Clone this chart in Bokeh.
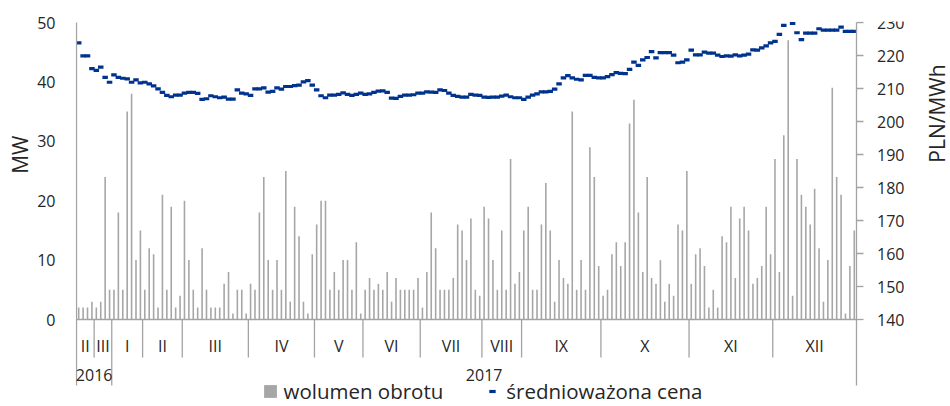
import numpy as np
from bokeh.plotting import figure
from bokeh.models import Range1d, LinearAxis, FixedTicker, Legend, LegendItem, Title
from bokeh.core.properties import value
from bokeh.embed import file_html
from bokeh.resources import INLINE

# ---------------- data ----------------
month_labels = ["II", "III", "I", "II", "III", "IV", "V", "VI", "VII", "VIII", "IX", "X", "XI", "XII"]
month_counts = [4, 4, 7, 9, 15, 15, 11, 13, 14, 9, 18, 20, 19, 19]
year_labels = ["2016", "2017"]
year_month_counts = [2, 12]

mw_ticks = [0, 10, 20, 30, 40, 50]
price_ticks = [140, 150, 160, 170, 180, 190, 200, 210, 220, 230]
price_tick_labels = ["140", "150", "160", "170", "180", "190", "200", "210", "220", "230"]

volume = [
    2, 2, 2, 3,
    2, 3, 24, 5,
    5, 18, 5, 35, 38, 10, 15,
    5, 12, 11, 2, 21, 5, 19, 2, 4,
    20, 10, 5, 2, 12, 5, 2, 2, 2, 6, 8, 1, 5, 5, 1,
    6, 5, 18, 24, 10, 5, 10, 5, 25, 3, 19, 14, 3, 1, 11,
    16, 20, 20, 5, 8, 5, 10, 10, 5, 13, 1,
    5, 7, 5, 6, 5, 8, 3, 7, 5, 5, 5, 5, 7,
    2, 8, 18, 12, 5, 5, 5, 7, 16, 15, 10, 17, 5, 4,
    19, 17, 10, 5, 15, 5, 27, 6, 8,
    15, 19, 5, 5, 16, 23, 15, 3, 10, 7, 6, 35, 5, 10, 5, 29, 24, 9,
    4, 5, 11, 13, 9, 13, 33, 37, 18, 8, 24, 7, 6, 10, 3, 6, 4, 16, 15, 25,
    6, 11, 12, 9, 2, 5, 2, 14, 13, 19, 7, 17, 19, 15, 6, 7, 9, 19, 11,
    27, 8, 31, 47, 4, 27, 21, 19, 16, 22, 12, 3, 10, 39, 24, 21, 1, 9, 15,
]

price = [
    223.8, 219.9, 219.9, 216.0,
    215.5, 216.5, 213.4, 211.9,
    214.1, 213.4, 213.1, 212.9, 211.9, 212.6, 211.7,
    211.9, 211.4, 210.8, 209.9, 208.8, 207.9, 207.5, 208.0, 208.0,
    208.6, 208.8, 208.8, 208.5, 206.7, 206.9, 207.8, 207.5, 207.2, 207.4, 206.8, 206.8, 209.6, 208.6, 208.4,
    207.9, 209.9, 209.9, 210.2, 208.9, 209.1, 210.2, 209.8, 210.6, 210.6, 210.9, 211.0, 212.0, 212.4, 211.0,
    209.6, 207.8, 207.2, 208.0, 208.0, 208.2, 208.7, 208.2, 207.9, 208.2, 208.6,
    208.2, 208.4, 208.8, 209.2, 209.3, 208.8, 207.1, 207.0, 207.6, 208.0, 208.0, 208.1, 208.6,
    208.6, 209.0, 208.9, 208.8, 209.6, 209.4, 208.6, 207.9, 207.6, 207.4, 207.4, 208.2, 208.0, 207.9,
    207.4, 207.3, 207.4, 207.4, 207.7, 208.0, 207.5, 207.2, 207.2,
    206.7, 207.4, 208.0, 208.4, 209.0, 209.0, 209.1, 209.8, 211.4, 213.2, 213.9, 213.2, 212.8, 212.6, 214.0, 214.0, 213.4, 213.2,
    213.2, 213.6, 214.2, 214.8, 214.6, 214.5, 215.8, 218.0, 217.0, 218.7, 219.4, 221.2, 219.3, 220.9, 220.9, 220.9, 220.1, 217.8, 218.0, 218.7,
    221.6, 220.2, 220.2, 221.0, 220.7, 220.7, 220.1, 219.7, 219.9, 219.8, 220.2, 219.9, 220.1, 220.4, 221.7, 221.6, 222.3, 222.9, 223.8,
    224.3, 226.4, 229.1, float("nan"), 229.7, 226.9, 224.8, 226.8, 226.8, 226.8, 228.1, 227.7, 227.7, 227.7, 227.7, 228.6, 227.3, 227.3, 227.3,
]

# ---------------- layout ----------------
n = len(volume)
W, H = 950, 406
ppu_x = 780.0 / n                   # px per category
ppu_y = 297.0 / 50.0                # px per MW
left_b, top_b = 75, 21
frame_w = W - left_b
frame_h = H - top_b
x_start = -1.0 / ppu_x
x_end = x_start + frame_w / ppu_x
y_end = 50 + 1.0 / ppu_y
y_start = y_end - frame_h / ppu_y
p_ratio = (price_ticks[-1] - price_ticks[0]) / (mw_ticks[-1] - mw_ticks[0])
p_start = price_ticks[0] + p_ratio * y_start
p_end = price_ticks[0] + p_ratio * y_end


def below(pix):
    """MW value that lies pix pixels below the zero line"""
    return -pix / ppu_y


def right_of(pix):
    """x value that lies pix pixels right of the last category"""
    return n + pix / ppu_x


GRAY_LINE = "#A3A3A3"
BAR = "#A6A6A6"
BLUE = "#00338D"
TXT = "#262626"
FONT = "Open Sans"
TICK_FS = "16px"

p = figure(width=W, height=H, x_range=Range1d(x_start, x_end), y_range=Range1d(y_start, y_end),
           output_backend="svg", toolbar_location=None, x_axis_location=None, y_axis_location=None,
           min_border_left=left_b, min_border_right=0, min_border_top=top_b, min_border_bottom=0,
           title=None, outline_line_color=None, background_fill_color="white", border_fill_color="white")
p.xgrid.grid_line_color = None
p.ygrid.grid_line_color = None
p.extra_y_ranges = {"price": Range1d(p_start, p_end)}

xs = np.arange(n) + 0.5

bars = p.vbar(x=xs, top=volume, width=0.36, bottom=0, fill_color=BAR, line_color=None)
pts = p.scatter(x=xs, y=price, y_range_name="price", marker="dash", size=5.5,
                line_color=BLUE, line_width=3.2)

# left value axis
la = LinearAxis(ticker=FixedTicker(ticks=mw_ticks), axis_line_color=None,
                major_tick_line_color=None, minor_tick_line_color=None,
                major_tick_out=0, major_tick_in=0, major_label_standoff=20,
                major_label_text_font=FONT, major_label_text_font_size=TICK_FS,
                major_label_text_color=TXT)
p.add_layout(la, "left")
mw_title = Title(text="MW", align="right", offset=114, standoff=0, vertical_align="middle",
                 text_font=FONT, text_font_size="21px", text_font_style="normal", text_color=TXT)
p.add_layout(mw_title, "left")

# right value axis (secondary range), drawn in the plot area
nt = len(price_ticks)
p.segment(x0=[n] * nt, y0=price_ticks, x1=[right_of(7)] * nt, y1=price_ticks,
          y_range_name="price", line_color=GRAY_LINE, line_width=1.3)
p.text(x=[right_of(20.5)] * nt, y=price_ticks, text=price_tick_labels, y_range_name="price",
       text_font=value(FONT), text_font_size=value(TICK_FS), text_color=TXT,
       text_align="left", text_baseline="middle")
p.text(x=[right_of(80)], y=[(319 - 113) / ppu_y], text=["PLN/MWh"], angle=np.pi / 2,
       text_font=value(FONT), text_font_size=value("21px"), text_color=TXT,
       text_align="center", text_baseline="middle")

# category axis drawn by hand
bounds = np.cumsum(month_counts)
starts = np.concatenate([[0], bounds[:-1]])
year_bounds = []
k = 0
for c in year_month_counts:
    k += c
    year_bounds.append(int(bounds[k - 1]))
year_starts = [0] + year_bounds[:-1]

p.segment(x0=[0], y0=[0], x1=[n], y1=[0], line_color=GRAY_LINE, line_width=1.3)
p.segment(x0=[0, n], y0=[50, 50], x1=[0, n], y1=[below(66)] * 2, line_color=GRAY_LINE, line_width=1.3)
month_seps = [int(b) for b in bounds[:-1] if int(b) not in year_bounds]
p.segment(x0=month_seps, y0=[0] * len(month_seps), x1=month_seps, y1=[below(38)] * len(month_seps),
          line_color=GRAY_LINE, line_width=1.3)
yseps = year_bounds[:-1]
p.segment(x0=yseps, y0=[0] * len(yseps), x1=yseps, y1=[below(66)] * len(yseps),
          line_color=GRAY_LINE, line_width=1.3)

p.text(x=(starts + bounds) / 2.0, y=[below(26)] * len(month_labels), text=month_labels,
       text_font=value(FONT), text_font_size=value(TICK_FS), text_color=TXT,
       text_align="center", text_baseline="middle")
p.text(x=[(a + b) / 2.0 for a, b in zip(year_starts, year_bounds)], y=[below(55)] * len(year_labels),
       text=year_labels, text_font=value(FONT), text_font_size=value(TICK_FS), text_color=TXT,
       text_align="center", text_baseline="middle")

legend = Legend(items=[LegendItem(label="wolumen obrotu", renderers=[bars]),
                       LegendItem(label="średnioważona cena", renderers=[pts])],
                location=(186.5, 1), orientation="horizontal", padding=0, margin=0, spacing=41,
                glyph_width=16, glyph_height=16, label_height=14, label_standoff=6,
                label_text_font=FONT, label_text_font_size="20.5px", label_text_color=TXT,
                border_line_color=None, background_fill_alpha=0)
p.add_layout(legend)

open("out.html", "w").write(file_html(p, INLINE))
